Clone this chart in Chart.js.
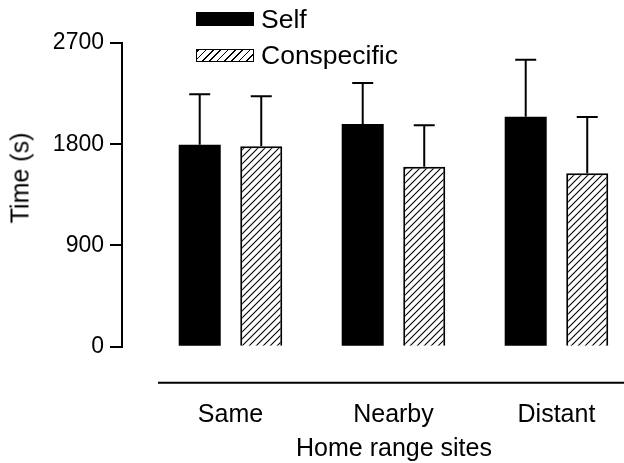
<!DOCTYPE html>
<html>
<head>
<meta charset="utf-8">
<script src="https://cdn.jsdelivr.net/npm/chart.js@4.4.1/dist/chart.umd.min.js"></script>
<style>
  html, body { margin: 0; padding: 0; background: #fff; overflow: hidden; }
  #wrap { position: relative; width: 680px; height: 463px; }
  #wrap canvas { position: absolute; left: 0; top: 0; }
  .legend { position: absolute; left: 196px; top: 0; font: 26.5px 'Liberation Sans', Arial, sans-serif; color: #000; }
  .legend .item { position: absolute; left: 0; white-space: nowrap; height: 30px; line-height: 30px; width: 300px; }
  .legend .swatch { position: absolute; left: 0; width: 58px; box-sizing: border-box; }
  .legend .label { position: absolute; left: 65px; top: 0; }
  .sw-self { background: #000; height: 14px; top: 8px; }
  .sw-cons { height: 13px; top: 9px; border: 1.5px solid #000;
    background: repeating-linear-gradient(-45deg, #fff 0, #fff 4px, #000 4px, #000 5.2px); }
  .ytitle { position: absolute; left: 20px; top: 178px; width: 0; height: 0; }
  .ytitle span { position: absolute; transform: translate(-50%, -50%) rotate(-90deg);
    white-space: nowrap; font: 25px 'Liberation Sans', Arial, sans-serif; color: #000; line-height: 1; }
</style>
</head>
<body>
<div id="wrap">
  <canvas id="chart" width="680" height="463"></canvas>
  <div class="ytitle"><span>Time (s)</span></div>
  <div class="legend">
    <div class="item" style="top:4px"><div class="swatch sw-self"></div><span class="label">Self</span></div>
    <div class="item" style="top:40px"><div class="swatch sw-cons"></div><span class="label">Conspecific</span></div>
  </div>
</div>
<script>
// ===== Time at home range sites =====

const categories = ['Same', 'Nearby', 'Distant'];
const seriesNames = ['Self', 'Conspecific'];

// Means and upper error (SE) in seconds
const selfMeans = [1795, 1980, 2045];
const selfErrors = [449, 365, 505];
const consMeans = [1781, 1600, 1541];
const consErrors = [445, 368, 502];

const yTicks = [0, 900, 1800, 2700];

Chart.defaults.font.family = "'Liberation Sans', Arial, sans-serif";
Chart.defaults.color = '#000';

// Diagonal hatch for the conspecific bars
function makeHatch() {
  const size = 7;
  const c = document.createElement('canvas');
  c.width = size;
  c.height = size;
  const g = c.getContext('2d');
  g.fillStyle = '#fff';
  g.fillRect(0, 0, size, size);
  g.strokeStyle = '#000';
  g.lineWidth = 1.1;
  g.beginPath();
  g.moveTo(-1, size + 1); g.lineTo(size + 1, -1);
  g.moveTo(-1, 1); g.lineTo(1, -1);
  g.moveTo(size - 1, size + 1); g.lineTo(size + 1, size - 1);
  g.stroke();
  return g.createPattern(c, 'repeat');
}

const ctx = document.getElementById('chart').getContext('2d');
const hatch = makeHatch();

const toPoints = arr => arr.map((v, i) => ({ x: i + 1, y: v }));

// Error bars (upper only) plus the detached baseline under the groups
const errorBars = {
  id: 'errorBars',
  afterDatasetsDraw(chart) {
    const y = chart.scales.y;
    const x = chart.scales.x;
    const g = chart.ctx;
    g.save();
    g.strokeStyle = '#000';
    g.lineWidth = 2;
    chart.data.datasets.forEach((ds, di) => {
      const meta = chart.getDatasetMeta(di);
      meta.data.forEach((bar, i) => {
        const top = y.getPixelForValue(ds.data[i].y + ds.errors[i]);
        g.beginPath();
        g.moveTo(bar.x, bar.y);
        g.lineTo(bar.x, top);
        g.moveTo(bar.x - 10.5, top);
        g.lineTo(bar.x + 10.5, top);
        g.stroke();
      });
    });
    // baseline below the categories
    const lineY = chart.chartArea.bottom + 36;
    g.beginPath();
    g.moveTo(x.getPixelForValue(0.555), lineY);
    g.lineTo(x.getPixelForValue(3.445), lineY);
    g.stroke();
    g.restore();
  }
};

new Chart(ctx, {
  type: 'bar',
  data: {
    datasets: [
      {
        label: seriesNames[0],
        data: toPoints(selfMeans),
        errors: selfErrors,
        backgroundColor: '#000',
        borderColor: '#000',
        borderWidth: 0
      },
      {
        label: seriesNames[1],
        data: toPoints(consMeans),
        errors: consErrors,
        backgroundColor: hatch,
        borderColor: '#000',
        borderWidth: 2
      }
    ]
  },
  options: {
    responsive: false,
    animation: false,
    categoryPercentage: 0.755,
    barPercentage: 0.683,
    layout: { padding: { top: 43, right: 14, left: 0, bottom: 0 } },
    plugins: {
      legend: { display: false },
      tooltip: { enabled: false }
    },
    scales: {
      x: {
        type: 'linear',
        offset: false,
        min: 0.3344,
        max: 3.672,
        afterBuildTicks: s => { s.ticks = categories.map((c, i) => ({ value: i + 1 })); },
        afterFit: s => { s.height = 116.3; },
        grid: { display: false },
        border: { display: false },
        ticks: {
          autoSkip: false,
          maxRotation: 0,
          padding: 45,
          font: { size: 25 },
          callback: v => categories[v - 1]
        },
        title: {
          display: true,
          text: 'Home range sites',
          font: { size: 25, lineHeight: 1 },
          padding: { top: 0, bottom: 1 }
        }
      },
      y: {
        min: 0,
        max: 2700,
        afterBuildTicks: s => { s.ticks = yTicks.map(v => ({ value: v })); },
        afterFit: s => { s.width = 122; },
        grid: {
          drawOnChartArea: false,
          drawTicks: true,
          tickLength: 12,
          color: '#000',
          lineWidth: 2
        },
        border: { display: true, color: '#000', width: 2 },
        ticks: {
          padding: 6,
          font: { size: 23 },
          callback: v => String(v)
        }
      }
    }
  },
  plugins: [errorBars]
});
</script>
</body>
</html>
